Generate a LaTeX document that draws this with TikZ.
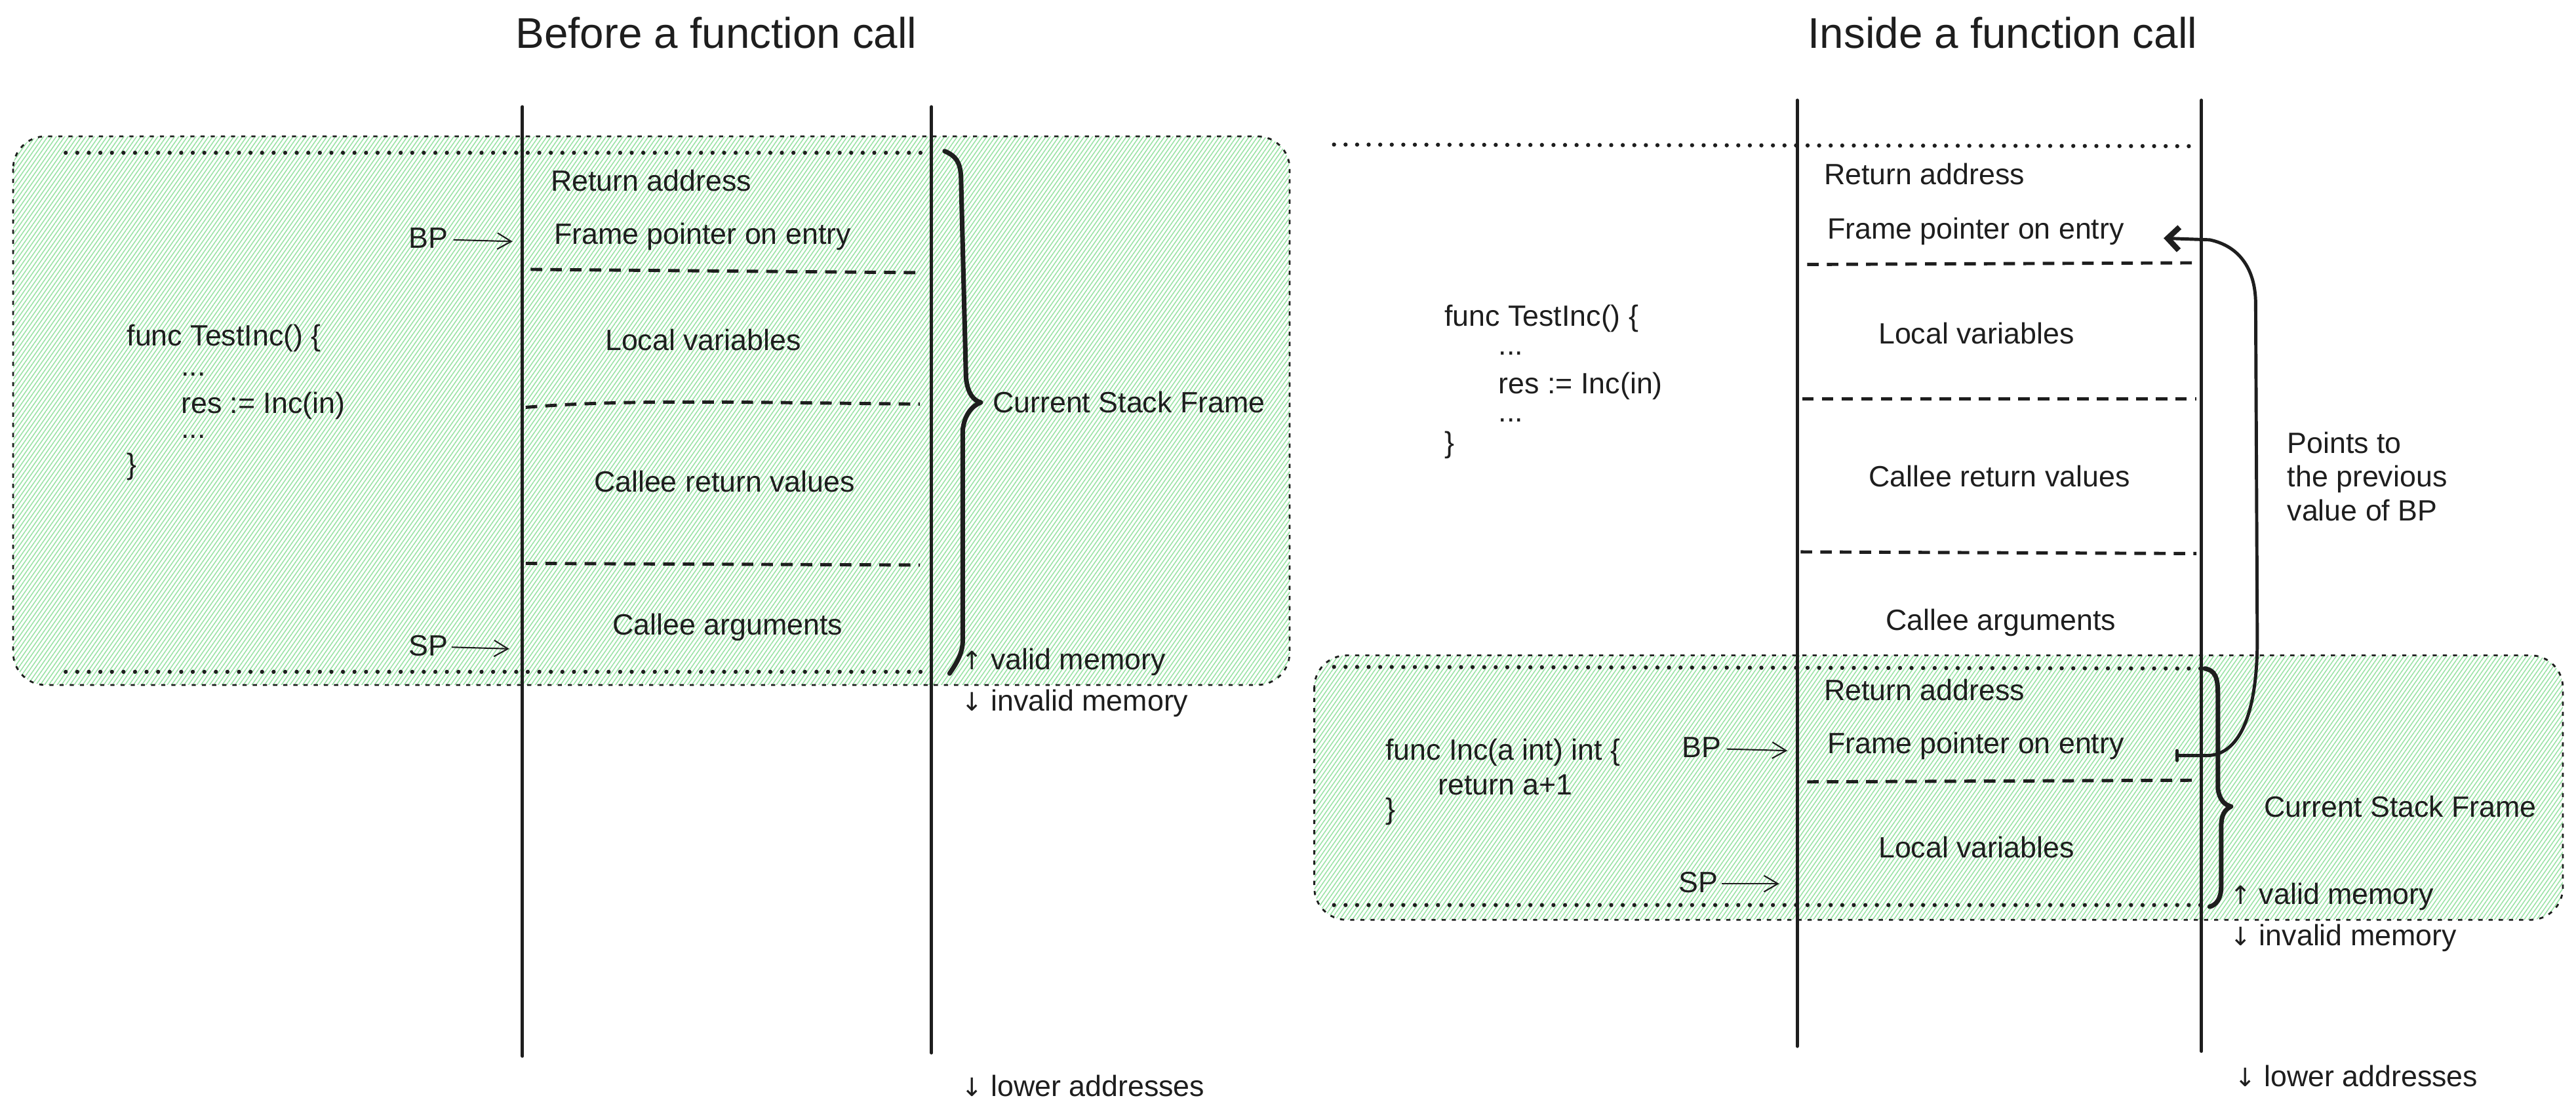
\documentclass[tikz,border=0pt]{standalone}
\usepackage{fontspec}
\setmainfont{Liberation Sans}
\newfontfamily\arrfont{DejaVu Sans}
\usetikzlibrary{patterns.meta,arrows.meta}
\definecolor{ink}{HTML}{1E1E1E}
\definecolor{hatch}{HTML}{9BE3A6}
\tikzset{
 lbl/.style={inner sep=0pt, text=ink, font=\fontsize{12.7}{14.6}\selectfont},
 ttl/.style={inner sep=0pt, text=ink, font=\fontsize{18.6}{22}\selectfont},
 stackline/.style={draw=ink, line width=1.4pt, line cap=round},
 sepline/.style={draw=ink, line width=1.4pt, dash pattern=on 5pt off 3.5pt},
 dotline/.style={draw=ink, line width=1.8pt, line cap=round, dash pattern=on 0pt off 5pt},
 framebox/.style={draw=ink, line width=0.8pt, dash pattern=on 1.8pt off 2.6pt, rounded corners=14pt, pattern={Lines[angle=55,distance=1.5pt,line width=0.45pt]}, pattern color=hatch},
 ptr/.style={draw=ink, line width=0.6pt, -{Straight Barb[length=6pt,width=7pt,line width=0.6pt]}},
 brc/.style={draw=ink, line width=2pt, line cap=round, line join=round},
 backptr/.style={draw=ink, line width=1.4pt, line cap=round, -{Straight Barb[length=5pt,width=10pt,line width=2.4pt]}},
}
\begin{document}
\begin{tikzpicture}[x=0.025cm,y=-0.025cm]
\useasboundingbox (0,0) rectangle (1568,680);

% ---------------- LEFT PANEL ----------------
\path[framebox] (8,83) rectangle (785,417);
\node[ttl] (t1) at (436,20) {Before a function call};
\coordinate (l1top) at (318,65); \coordinate (l1bot) at (318,643);
\coordinate (l2top) at (567,65); \coordinate (l2bot) at (567,641);
\draw[stackline] (l1top) -- (l1bot);
\draw[stackline] (l2top) -- (l2bot);
\coordinate (ld1a) at (40,93);  \coordinate (ld1b) at (567,93);
\coordinate (ld2a) at (40,409); \coordinate (ld2b) at (567,409);
\draw[dotline] (ld1a) -- (ld1b);
\draw[dotline] (ld2a) -- (ld2b);
\coordinate (ls1a) at (323,164); \coordinate (ls1b) at (560,166);
\coordinate (ls2a) at (320,248); \coordinate (ls2b) at (560,246);
\coordinate (ls3a) at (320,343); \coordinate (ls3b) at (560,344);
\draw[sepline] (ls1a) -- (ls1b);
\draw[sepline] (ls2a) .. controls (380,243) and (450,245) .. (ls2b);
\draw[sepline] (ls3a) -- (ls3b);

\node[lbl,anchor=west] (lra) at (335,110) {Return address};
\node[lbl,anchor=west] (lfp) at (337,144) {Frame pointer on entry};
\node[lbl,anchor=center] (llv) at (428,207) {Local variables};
\node[lbl,anchor=center] (lcr) at (441,293) {Callee return values};
\node[lbl,anchor=center] (lca) at (443,382) {Callee arguments};

\node[lbl,anchor=east] (lbp) at (273,145) {BP};
\coordinate (lbpt) at (312,147);
\draw[ptr] (lbp.east) ++(3,1) -- (lbpt);
\node[lbl,anchor=east] (lsp) at (273,393) {SP};
\coordinate (lspt) at (310,395);
\draw[ptr] (lsp.east) ++(2,1) -- (lspt);

\node[lbl,anchor=west] (lc1) at (77,206) {func TestInc() \{};
\node[lbl,anchor=west] (lc2) at (110,228) {...};
\node[lbl,anchor=west] (lc3) at (110,247) {res := Inc(in)};
\node[lbl,anchor=west] (lc4) at (110,266) {...};
\node[lbl,anchor=west] (lc5) at (77,284) {\}};

\draw[brc] (575,92) .. controls (582,95) and (585,99) .. (585,110) -- (588,230)
  .. controls (589,240) and (593,244) .. (597,245)
  .. controls (592,247) and (587,252) .. (586,262) -- (586,390)
  .. controls (586,398) and (582,404) .. (578,410);
\node[lbl,anchor=west] (lcsf) at (604,245) {Current Stack Frame};
\node[lbl,anchor=west] (lvm) at (585,403) {{\arrfont\fontsize{11}{12}\selectfont ↑} valid memory};
\node[lbl,anchor=west] (lim) at (585,428) {{\arrfont\fontsize{11}{12}\selectfont ↓} invalid memory};
\node[lbl,anchor=west] (lla) at (585,661) {{\arrfont\fontsize{11}{12}\selectfont ↓} lower addresses};

% ---------------- RIGHT PANEL ----------------
\path[framebox] (800,399) rectangle (1560,560);
\node[ttl] (t2) at (1219,20) {Inside a function call};
\coordinate (r1top) at (1094,61); \coordinate (r1bot) at (1094,637);
\coordinate (r2top) at (1340,61); \coordinate (r2bot) at (1340,640);
\draw[stackline] (r1top) -- (r1bot);
\draw[stackline] (r2top) -- (r2bot);
\coordinate (rd0a) at (812,88);  \coordinate (rd0b) at (1338,89);
\coordinate (rd1a) at (812,406); \coordinate (rd1b) at (1340,407);
\coordinate (rd2a) at (812,551); \coordinate (rd2b) at (1340,551);
\draw[dotline] (rd0a) -- (rd0b);
\draw[dotline] (rd1a) -- (rd1b);
\draw[dotline] (rd2a) -- (rd2b);
\coordinate (rs1a) at (1100,161); \coordinate (rs1b) at (1337,160);
\coordinate (rs2a) at (1097,243); \coordinate (rs2b) at (1337,243);
\coordinate (rs3a) at (1096,336); \coordinate (rs3b) at (1337,337);
\coordinate (rs4a) at (1100,476); \coordinate (rs4b) at (1335,475);
\draw[sepline] (rs1a) -- (rs1b);
\draw[sepline] (rs2a) -- (rs2b);
\draw[sepline] (rs3a) -- (rs3b);
\draw[sepline] (rs4a) -- (rs4b);

\node[lbl,anchor=west] (rra) at (1110,106) {Return address};
\node[lbl,anchor=west] (rfp) at (1112,141) {Frame pointer on entry};
\node[lbl,anchor=center] (rlv) at (1203,203) {Local variables};
\node[lbl,anchor=center] (rcr) at (1217,290) {Callee return values};
\node[lbl,anchor=center] (rca) at (1218,379) {Callee arguments};
\node[lbl,anchor=west,align=left] (rpt) at (1392,290) {Points to\\the previous\\value of BP};

\node[lbl,anchor=west] (rc1) at (879,194) {func TestInc() \{};
\node[lbl,anchor=west] (rc2) at (912,215) {...};
\node[lbl,anchor=west] (rc3) at (912,235) {res := Inc(in)};
\node[lbl,anchor=west] (rc4) at (912,256) {...};
\node[lbl,anchor=west] (rc5) at (879,271) {\}};

\node[lbl,anchor=west] (rra2) at (1110,420) {Return address};
\node[lbl,anchor=west] (rfp2) at (1112,454) {Frame pointer on entry};
\node[lbl,anchor=center] (rlv2) at (1203,516) {Local variables};

\node[lbl,anchor=west] (ri1) at (843,458) {func Inc(a int) int \{};
\node[lbl,anchor=west] (ri2) at (875,478) {return a+1};
\node[lbl,anchor=west] (ri3) at (843,494) {\}};

\node[lbl,anchor=east] (rbp) at (1048,455) {BP};
\coordinate (rbpt) at (1088,457);
\draw[ptr] (rbp.east) ++(3,1) -- (rbpt);
\node[lbl,anchor=east] (rsp) at (1046,537) {SP};
\coordinate (rspt) at (1083,538);
\draw[ptr] (rsp.east) ++(2,1) -- (rspt);

\draw[brc] (1342,407) .. controls (1348,408) and (1350,412) .. (1350,422) -- (1350,480)
  .. controls (1351,487) and (1354,490) .. (1358,491)
  .. controls (1354,493) and (1352,496) .. (1352,504) -- (1352,540)
  .. controls (1352,547) and (1349,551) .. (1345,552);
\node[lbl,anchor=west] (rcsf) at (1378,491) {Current Stack Frame};
\node[lbl,anchor=west] (rvm) at (1357,546) {{\arrfont\fontsize{11}{12}\selectfont ↑} valid memory};
\node[lbl,anchor=west] (rim) at (1357,571) {{\arrfont\fontsize{11}{12}\selectfont ↓} invalid memory};
\node[lbl,anchor=west] (rla) at (1360,655) {{\arrfont\fontsize{11}{12}\selectfont ↓} lower addresses};

% back pointer arrow
\coordinate (fpnew) at (1325,460);
\coordinate (fpold) at (1317,145);
\draw[backptr] (fpnew) -- (1343,460) .. controls (1365,460) and (1374,430) .. (1374,390)
  -- (1373,185) .. controls (1373,165) and (1364,150) .. (1345,146) -- (fpold);
\draw[draw=ink,line width=1.4pt,line cap=round] (1325,457) -- (1325,463);
\end{tikzpicture}
\end{document}
